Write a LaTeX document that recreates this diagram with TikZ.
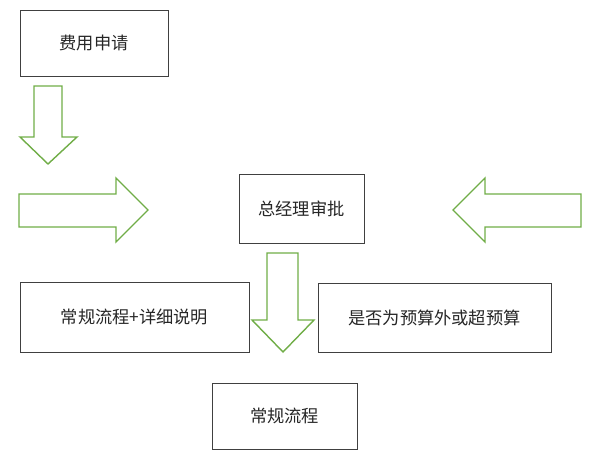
\documentclass[tikz,border=0pt]{standalone}
\usepackage{fontspec}
\newfontfamily\cjk{Noto Sans CJK SC}
\definecolor{arrowgreen}{HTML}{70AD47}
\definecolor{boxgray}{HTML}{404040}
\tikzset{
  stepbox/.style={draw=boxgray, line width=0.9bp, text=black!85, inner sep=0pt,
    font=\cjk\fontsize{17.3}{20}\selectfont},
  blockarrow/.style={draw=arrowgreen, line width=1.4bp, line join=miter}
}
\begin{document}
\begin{tikzpicture}[x=1bp,y=-1bp]
\useasboundingbox (0,0) rectangle (594,461);
% boxes
\node[stepbox, minimum width=148bp, minimum height=66bp] (apply) at (94,43) {费用申请};
\node[stepbox, minimum width=125bp, minimum height=69bp] (approve) at (301.5,208.5) {总经理审批};
\node[stepbox, minimum width=229bp, minimum height=70bp] (detail) at (134.5,317) {常规流程+详细说明};
\node[stepbox, minimum width=233bp, minimum height=69bp] (budget) at (434.5,317.5) {是否为预算外或超预算};
\node[stepbox, minimum width=145bp, minimum height=66bp] (normal) at (284.5,416) {常规流程};
% block arrows
\draw[blockarrow] (34,86) -- (62,86) -- (62,137) -- (77,137) -- (48,164)
  -- (20,137) -- (34,137) -- cycle;
\draw[blockarrow] (19,194) -- (116,194) -- (116,178) -- (148,210) -- (116,242)
  -- (116,227) -- (19,227) -- cycle;
\draw[blockarrow] (581,194) -- (485,194) -- (485,178) -- (453,210) -- (485,242)
  -- (485,227) -- (581,227) -- cycle;
\draw[blockarrow] (267,253) -- (298,253) -- (298,320) -- (314,320) -- (283,352)
  -- (252,320) -- (267,320) -- cycle;
\end{tikzpicture}
\end{document}
